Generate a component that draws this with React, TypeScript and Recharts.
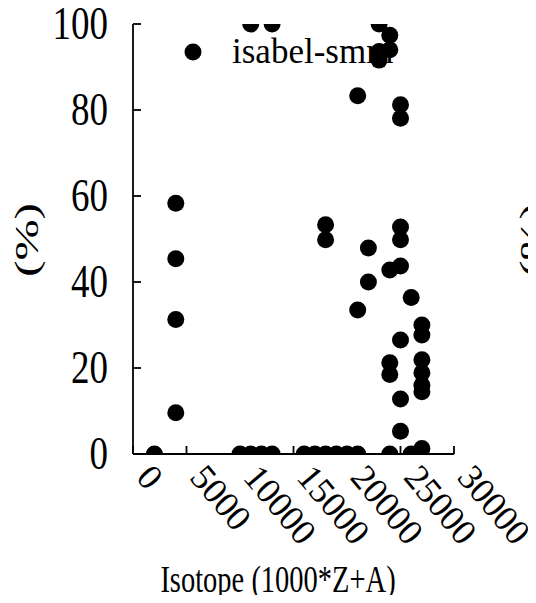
import React from "react";
import { ScatterChart, Scatter, XAxis, YAxis } from "recharts";

// Isotope id (1000*Z+A) and percentage for each point
const isotopeIds = [
  2000,
  4000, 4000, 4000, 4000,
  10000, 11000, 12000, 13000,
  11000, 13000,
  16000, 17000, 18000, 19000, 20000, 21000,
  18000, 18000,
  21000, 21000,
  22000, 22000,
  23000, 23000, 23000,
  24000, 24000, 24000, 24000, 24000, 24000,
  25000, 25000, 25000, 25000, 25000, 25000, 25000, 25000,
  26000, 26000,
  27000, 27000, 27000, 27000, 27000, 27000, 27000,
];
const percentValues = [
  0,
  58.3, 45.4, 31.3, 9.6,
  0, 0, 0, 0,
  100, 100,
  0, 0, 0, 0, 0, 0,
  53.3, 49.8,
  83.3, 33.5,
  47.9, 40.0,
  100, 93.6, 91.6,
  97.4, 94.0, 42.8, 21.2, 18.5, 0,
  81.2, 78.1, 52.8, 49.8, 43.7, 26.5, 12.8, 5.3,
  36.4, 0,
  30.0, 27.7, 21.9, 18.9, 16.0, 14.5, 1.3,
];
const xTicks = [0, 5000, 10000, 15000, 20000, 25000, 30000];
const yTicks = [0, 20, 40, 60, 80, 100];
const seriesName = "isabel-smm";
const xLabel = "Isotope (1000*Z+A)";
const yLabel = "(%)";

const data = isotopeIds.map((x, i) => ({ x, y: percentValues[i] }));

const FONT = "Liberation Serif";
const TICK_LEN = 8;
const STROKE = 1.8;

const BottomTick = (props: any) => {
  const { x, y, payload } = props;
  const ax = x + 2;
  const ay = y + 24;
  return (
    <g>
      <line x1={x} y1={y} x2={x} y2={y - TICK_LEN} stroke="#000" strokeWidth={STROKE} />
      <text
        x={0}
        y={0}
        transform={`translate(${ax}, ${ay}) rotate(50)`}
        textAnchor="start"
        fontSize={36}
        fontFamily={FONT}
        fill="#000"
      >
        {payload.value}
      </text>
    </g>
  );
};

const TopTick = (props: any) => {
  const { x, y } = props;
  return <line x1={x} y1={y} x2={x} y2={y + TICK_LEN} stroke="#000" strokeWidth={STROKE} />;
};

const LeftTick = (props: any) => {
  const { x, y, payload } = props;
  return (
    <g>
      <line x1={x} y1={y} x2={x + TICK_LEN} y2={y} stroke="#000" strokeWidth={STROKE} />
      <text
        x={0}
        y={0}
        transform={`translate(${x - 25}, ${y + 15}) scale(1, 1.25)`}
        textAnchor="end"
        fontSize={37}
        fontFamily={FONT}
        fill="#000"
      >
        {payload.value}
      </text>
    </g>
  );
};

const RightTick = (props: any) => {
  const { x, y } = props;
  return <line x1={x} y1={y} x2={x - TICK_LEN} y2={y} stroke="#000" strokeWidth={STROKE} />;
};

const Dot = (props: any) => {
  const { cx, cy } = props;
  return <circle cx={cx} cy={cy} r={8.5} fill="#000" />;
};

export default function App() {
  return (
    <div style={{ margin: -8, width: 536, height: 603, overflow: "hidden" }}>
      <ScatterChart
        width={536}
        height={603}
        margin={{ top: 24, right: 82, bottom: 49, left: 33 }}
      >
        <XAxis
          xAxisId="bottom"
          type="number"
          dataKey="x"
          domain={[0, 30000]}
          ticks={xTicks}
          interval={0}
          height={100}
          tickSize={0}
          tickMargin={0}
          tickLine={false}
          axisLine={{ stroke: "#000", strokeWidth: STROKE }}
          tick={<BottomTick />}
          allowDataOverflow
        />
        <XAxis
          xAxisId="top"
          orientation="top"
          type="number"
          dataKey="x"
          domain={[0, 30000]}
          ticks={xTicks}
          interval={0}
          height={0}
          tickSize={0}
          tickMargin={0}
          tickLine={false}
          axisLine={{ stroke: "#000", strokeWidth: STROKE }}
          tick={<TopTick />}
          allowDataOverflow
        />
        <YAxis
          yAxisId="left"
          type="number"
          dataKey="y"
          domain={[0, 100]}
          ticks={yTicks}
          interval={0}
          width={100}
          tickSize={0}
          tickMargin={0}
          tickLine={false}
          axisLine={{ stroke: "#000", strokeWidth: STROKE }}
          tick={<LeftTick />}
          allowDataOverflow
        />
        <YAxis
          yAxisId="right"
          orientation="right"
          type="number"
          dataKey="y"
          domain={[0, 100]}
          ticks={yTicks}
          interval={0}
          width={0}
          tickSize={0}
          tickMargin={0}
          tickLine={false}
          axisLine={{ stroke: "#000", strokeWidth: STROKE }}
          tick={<RightTick />}
          allowDataOverflow
        />
        {/* legend (drawn under the points) */}
        <g>
          <circle cx={193} cy={52} r={8.5} fill="#000" />
          <text x={232} y={63} fontSize={35} fontFamily={FONT} fill="#000">
            {seriesName}
          </text>
        </g>
        <text
          x={0}
          y={0}
          transform="translate(278, 592) scale(1, 1.35)"
          textAnchor="middle"
          fontSize={28.5}
          fontFamily={FONT}
          fill="#000"
        >
          {xLabel}
        </text>
        <text
          x={0}
          y={0}
          transform="translate(38, 240) scale(1, 1.5) rotate(-90)"
          textAnchor="middle"
          fontSize={33}
          fontFamily={FONT}
          fill="#000"
        >
          {yLabel}
        </text>
        <text
          x={0}
          y={0}
          transform="translate(543, 240) scale(1, 1.5) rotate(-90)"
          textAnchor="middle"
          fontSize={33}
          fontFamily={FONT}
          fill="#000"
        >
          {yLabel}
        </text>
        <Scatter
          name={seriesName}
          data={data}
          xAxisId="bottom"
          yAxisId="left"
          fill="#000"
          shape={<Dot />}
          isAnimationActive={false}
        />
      </ScatterChart>
    </div>
  );
}
